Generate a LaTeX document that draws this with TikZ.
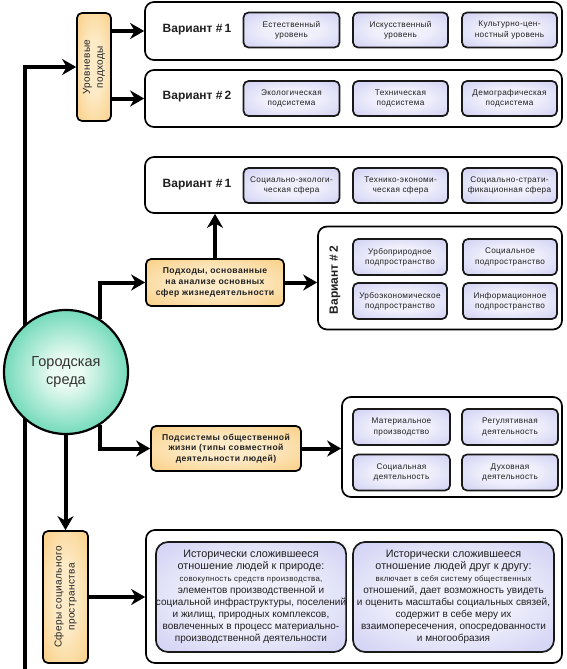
\documentclass[tikz,border=0pt]{standalone}
\usepackage{fontspec}
\setmainfont{Liberation Sans}
\newfontfamily\smfont[LetterSpace=4]{Liberation Sans}
\newfontfamily\spfont[LetterSpace=5]{Liberation Sans}
\usetikzlibrary{arrows.meta}
\definecolor{lav}{HTML}{BABAEE}
\definecolor{lavin}{HTML}{F0F0FC}
\definecolor{orout}{HTML}{F7BE5C}
\definecolor{orin}{HTML}{FDEBC8}
\definecolor{grout}{HTML}{24C494}
\definecolor{grin}{HTML}{EAFBF3}
\definecolor{txt}{HTML}{202020}
\pgfdeclareradialshading{lavsh}{\pgfpoint{0bp}{0bp}}{color(0bp)=(lavin); color(14bp)=(lavin); color(50bp)=(lav); color(72bp)=(lav)}
\pgfdeclareradialshading{orsh}{\pgfpoint{0bp}{0bp}}{color(0bp)=(orin); color(12bp)=(orin); color(50bp)=(orout); color(72bp)=(orout)}
\pgfdeclareradialshading{grsh}{\pgfpoint{0bp}{0bp}}{color(0bp)=(grin); color(6bp)=(grin); color(38bp)=(grout); color(50bp)=(grout)}
\pgfdeclarelayer{bg}
\pgfsetlayers{bg,main}
\tikzset{
  cont/.style={draw, line width=1.7pt, rounded corners=9pt, fill=white, inner sep=0pt},
  inb/.style={draw=black!90, line width=1.7pt, rounded corners=5pt, inner sep=0pt,
    shading=lavsh, align=center, text=txt,
    font=\smfont\fontsize{8.2}{10.2}\selectfont},
  orb/.style={draw, line width=1.7pt, rounded corners=5pt, inner sep=0pt,
    shading=orsh, align=center, text=txt},
  vlab/.style={font=\bfseries\fontsize{12}{14}\selectfont, text=txt},
  arr/.style={line width=4pt, line join=miter, -{Stealth[length=14pt,width=16pt,inset=4.5pt]}},
  bigb/.style={draw=black!90, line width=1.7pt, rounded corners=12pt, inner sep=0pt,
    shading=lavsh, align=center, text=txt},
  rlab/.style={rotate=90, align=center, text=txt, font=\smfont\fontsize{10}{13}\selectfont}
}
\begin{document}
\begin{tikzpicture}[x=1pt,y=-1pt]
\begin{pgfonlayer}{bg}
\fill[white] (0,0) rectangle (567,669);
\end{pgfonlayer}
\useasboundingbox (0,0) rectangle (567,669);

% --- top: level approaches
\node[orb, minimum width=34pt, minimum height=108pt] (ur) at (94,67) {};
\node[rlab] (urt) at (ur) {Уровневые\\подходы};

\node[cont, minimum width=417pt, minimum height=58pt] (v1) at (353.5,31) {};
\node[vlab] (v1l) at (197,30) {Вариант \#\,1};
\node[inb, minimum width=96pt, minimum height=35pt] (a1) at (291.5,30) {Естественный\\уровень};
\node[inb, minimum width=95pt, minimum height=35pt] (a2) at (400.5,30) {Искусственный\\уровень};
\node[inb, minimum width=95pt, minimum height=35pt] (a3) at (509.5,30) {Культурно-цен-\\ностный уровень};

\node[cont, minimum width=417pt, minimum height=57pt] (v2) at (353.5,98.5) {};
\node[vlab] (v2l) at (197,97) {Вариант \#\,2};
\node[inb, minimum width=96pt, minimum height=35pt] (b1) at (291.5,98.5) {Экологическая\\подсистема};
\node[inb, minimum width=95pt, minimum height=35pt] (b2) at (400.5,98.5) {Техническая\\подсистема};
\node[inb, minimum width=95pt, minimum height=35pt] (b3) at (509.5,98.5) {Демографическая\\подсистема};

% --- spheres
\node[cont, minimum width=417pt, minimum height=56pt] (s1) at (353.5,185) {};
\node[vlab] (s1l) at (197,185) {Вариант \#\,1};
\node[inb, minimum width=96pt, minimum height=35pt] (c1) at (291.5,185.5) {Социально-экологи-\\ческая сфера};
\node[inb, minimum width=95pt, minimum height=35pt] (c2) at (400.5,185.5) {Технико-экономи-\\ческая сфера};
\node[inb, minimum width=95pt, minimum height=35pt] (c3) at (509.5,185.5) {Социально-страти-\\фикационная сфера};

\node[orb, minimum width=138pt, minimum height=47pt, font=\spfont\bfseries\fontsize{8.6}{10.8}\selectfont] (pod) at (215,282.5) {Подходы, основанные\\на анализе основных\\сфер жизнедеятельности};

\node[cont, minimum width=244pt, minimum height=103pt] (s2) at (440,278) {};
\node[vlab, rotate=90] (s2l) at (335,280) {Вариант \#\,2};
\node[inb, minimum width=94pt, minimum height=36pt] (d1) at (400,257) {Урбоприродное\\подпространство};
\node[inb, minimum width=94pt, minimum height=36pt] (d2) at (510,257) {Социальное\\подпространство};
\node[inb, minimum width=94pt, minimum height=36pt] (d3) at (400,301) {Урбоэкономическое\\подпространство};
\node[inb, minimum width=94pt, minimum height=36pt] (d4) at (510,301) {Информационное\\подпространство};

% --- city
\node[circle, draw, line width=2.2pt, minimum size=124pt, inner sep=0pt, shading=grsh,
  align=center, text=black!80, font=\fontsize{14.5}{17.5}\selectfont] (city) at (66,372) {Городская\\среда};

% --- subsystems
\node[orb, minimum width=150pt, minimum height=45pt, font=\spfont\bfseries\fontsize{8.6}{10.8}\selectfont] (sub) at (226,448.5) {Подсистемы общественной\\жизни (типы совместной\\деятельности людей)};
\node[cont, minimum width=220pt, minimum height=100pt] (e0) at (452,447) {};
\node[inb, minimum width=97pt, minimum height=36pt] (e1) at (401.5,427) {Материальное\\производство};
\node[inb, minimum width=96pt, minimum height=36pt] (e2) at (510,427) {Регулятивная\\деятельность};
\node[inb, minimum width=97pt, minimum height=36pt] (e3) at (401.5,472.5) {Социальная\\деятельность};
\node[inb, minimum width=96pt, minimum height=36pt] (e4) at (510,472.5) {Духовная\\деятельность};

% --- social space
\node[orb, minimum width=45pt, minimum height=132pt] (sf) at (65.5,597) {};
\node[rlab] (sft) at (sf) {Сферы социального\\пространства};
\node[cont, minimum width=416pt, minimum height=133pt] (f0) at (354,596.5) {};
\node[bigb, minimum width=188pt, minimum height=110pt] (f1) at (251,597)
 {\fontsize{10.8}{13.5}\selectfont Исторически сложившееся\\\fontsize{10.8}{13.5}\selectfont отношение людей к природе:\\
  \smfont\fontsize{7.8}{11}\selectfont совокупность средств производства,\\элементов производственной и\\социальной инфраструктуры, поселений\\и жилищ, природных комплексов,\\вовлеченных в процесс материально-\\производственной деятельности};
\node[bigb, minimum width=201pt, minimum height=110pt] (f2) at (453.5,597)
 {\fontsize{10.8}{13.5}\selectfont Исторически сложившееся\\\fontsize{10.8}{13.5}\selectfont отношение людей друг к другу:\\
  \smfont\fontsize{7.8}{11}\selectfont включает в себя систему общественных\\отношений, дает возможность увидеть\\и оценить масштабы социальных связей,\\содержит в себе меру их\\взаимопересечения, опосредованности\\и многообразия};

% --- connectors
\coordinate (tb) at (25,669);
\begin{pgfonlayer}{bg}
\draw[arr] (tb) |- (ur.west);
\draw[arr] (ur.east |- v1.west) -- (v1.west);
\draw[arr] (ur.east |- v2.west) -- (v2.west);
\draw[arr] (city.57) |- (pod.west);
\draw[arr] (pod.north) -- (pod.north |- s1.south);
\draw[arr] (pod.east) -- (pod.east -| s2.west);
\draw[arr] (city.-57) |- (sub.west);
\draw[arr] (sub.east) -- (sub.east -| e0.west);
\draw[arr] (sf.north |- city.south) -- (sf.north);
\draw[arr] (sf.east) -- (sf.east -| f0.west);
\end{pgfonlayer}
\end{tikzpicture}
\end{document}
